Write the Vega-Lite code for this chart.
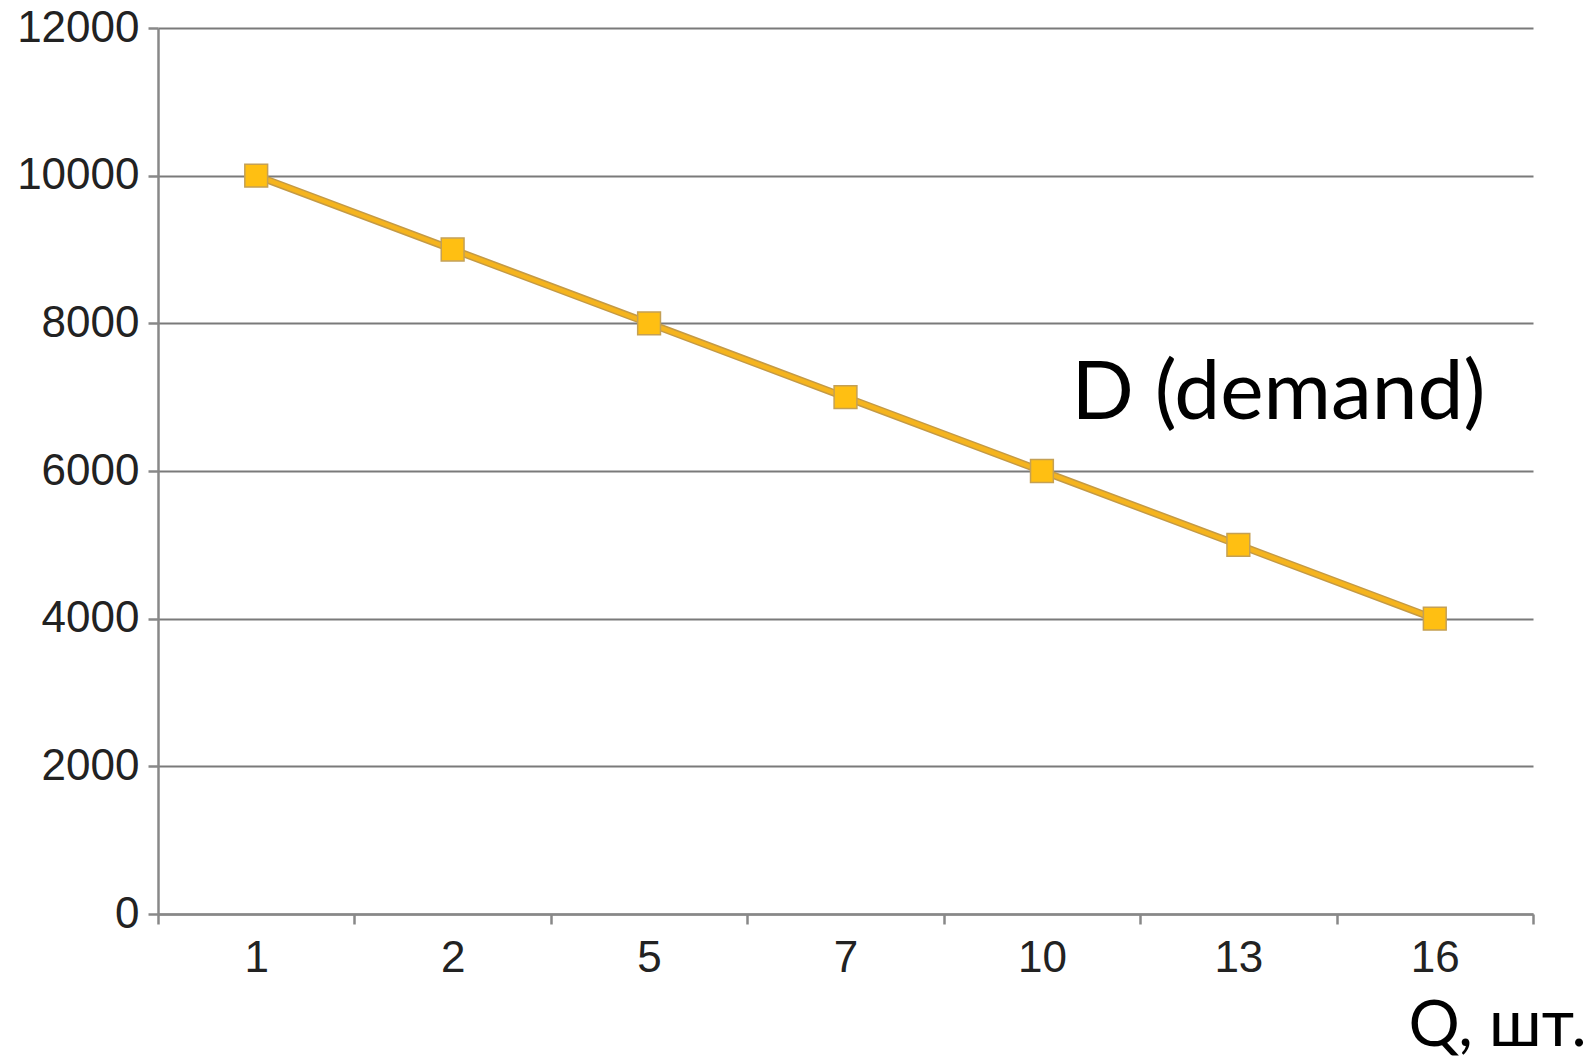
{
  "$schema": "https://vega.github.io/schema/vega-lite/v6.json",
  "autosize": {"type": "none"},
  "padding": {"left": 158, "top": 28, "right": 61, "bottom": 144},
  "width": 1375,
  "height": 886,
  "background": "white",
  "config": {"view": {"stroke": null}},
  "datasets": {
    "demand": [
      {"Q": "1", "P": 10000},
      {"Q": "2", "P": 9000},
      {"Q": "5", "P": 8000},
      {"Q": "7", "P": 7000},
      {"Q": "10", "P": 6000},
      {"Q": "13", "P": 5000},
      {"Q": "16", "P": 4000}
    ],
    "notes": [
      {"label": "D (demand)", "pos": 4.65, "val": 6700}
    ]
  },
  "layer": [
    {
      "data": {"name": "demand"},
      "layer": [
        {
          "mark": {"type": "line", "color": "#C49A45", "strokeWidth": 7.5},
          "encoding": {
            "x": {
              "field": "Q", "type": "ordinal", "sort": null,
              "scale": {"type": "band", "paddingInner": 0, "paddingOuter": 0},
              "axis": {
                "title": "Q, шт.",
                "titleFont": "Lato", "titleFontSize": 64, "titleFontWeight": "normal", "titleColor": "#000",
                "titleAnchor": "start", "titleAlign": "right", "titleBaseline": "alphabetic",
                "titleX": 1428, "titleY": 131,
                "labelAngle": 0, "labelFont": "Liberation Sans", "labelFontSize": 44, "labelColor": "#222",
                "labelPadding": 12, "tickBand": "extent", "tickSize": 10, "tickColor": "#888", "tickWidth": 2.5,
                "domainColor": "#888", "domainWidth": 2.5, "grid": false
              }
            },
            "y": {
              "field": "P", "type": "quantitative",
              "scale": {"domain": [0, 12000], "nice": false},
              "axis": {
                "title": null, "values": [0, 2000, 4000, 6000, 8000, 10000, 12000], "format": "d",
                "labelFont": "Liberation Sans", "labelFontSize": 44, "labelColor": "#222",
                "labelPadding": 9, "tickSize": 10, "tickColor": "#888", "tickWidth": 2.5,
                "domainColor": "#888", "domainWidth": 2.5,
                "grid": true, "gridColor": "#7a7a7a", "gridWidth": 2
              }
            }
          }
        },
        {
          "mark": {"type": "line", "color": "#F5B41E", "strokeWidth": 4.5},
          "encoding": {
            "x": {"field": "Q", "type": "ordinal", "sort": null},
            "y": {"field": "P", "type": "quantitative"}
          }
        },
        {
          "mark": {"type": "point", "shape": "square", "size": 520, "filled": true, "fill": "#FFBF12", "stroke": "#C4A055", "strokeWidth": 1.5, "opacity": 1},
          "encoding": {
            "x": {"field": "Q", "type": "ordinal", "sort": null},
            "y": {"field": "P", "type": "quantitative"}
          }
        }
      ]
    },
    {
      "data": {"name": "notes"},
      "mark": {"type": "text", "font": "Lato", "fontSize": 82, "align": "left", "baseline": "alphabetic", "color": "#000"},
      "encoding": {
        "x": {"field": "pos", "type": "quantitative", "scale": {"domain": [0, 7], "nice": false, "zero": false}, "axis": null},
        "y": {"field": "val", "type": "quantitative", "scale": {"domain": [0, 12000], "nice": false}, "axis": null},
        "text": {"field": "label"}
      }
    }
  ],
  "resolve": {"scale": {"x": "independent"}, "axis": {"x": "independent", "y": "independent"}}
}
